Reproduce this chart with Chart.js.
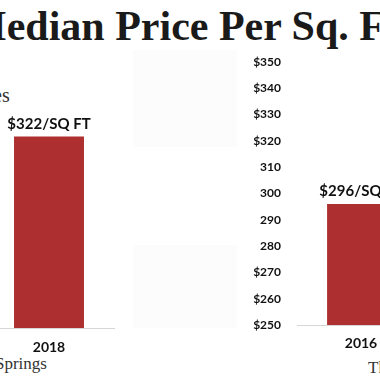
<!DOCTYPE html>
<html>
<head>
<meta charset="utf-8">
<script src="https://cdn.jsdelivr.net/npm/chart.js@4.4.1/dist/chart.umd.min.js"></script>
<style>
  html, body { margin: 0; padding: 0; background: #ffffff; }
  body { width: 380px; height: 380px; overflow: hidden; position: relative; }
  .abs { position: absolute; }
  #title { left: -33px; top: 2px; font-family: "Liberation Serif", serif; font-weight: bold; font-size: 42px; color: #1a1a1a; white-space: nowrap; line-height: 48px; }
  .serif { font-family: "Liberation Serif", serif; color: #333; white-space: nowrap; }
  .faint { background: #fcfcfc; }
</style>
</head>
<body>
<div class="abs faint" style="left:133px;top:50px;width:104px;height:97px;"></div>
<div class="abs faint" style="left:133px;top:245px;width:104px;height:83px;"></div>
<div id="title" class="abs">Median Price Per Sq. Ft.</div>
<div class="abs serif" style="left:-47px;top:84px;font-size:20px;">Homes</div>
<div class="abs serif" style="left:-5px;top:354px;font-size:17px;">Springs</div>
<div class="abs serif" style="left:368px;top:358px;font-size:17px;">The</div>
<div class="abs" style="left:-17px;top:0;width:132px;height:380px;"><canvas id="left"></canvas></div>
<div class="abs" style="left:200px;top:0;width:225px;height:380px;"><canvas id="right"></canvas></div>
<script>
const leftCategories = ['2018'];
const leftValues = [322];
const leftValueLabels = ['$322/SQ FT'];
const leftChangeLabels = ['+4.2%'];

const rightCategories = ['2016'];
const rightValues = [296];
const rightValueLabels = ['$296/SQ FT'];

const yMin = 250;
const yMax = 350;
const yStep = 10;
const yTickLabels = ['$250', '$260', '$270', '280', '290', '300', '310', '$320', '$330', '$340', '$350'];

const BAR_RED = '#ae2f2f';
const FONT = 'Lato, "Liberation Sans", sans-serif';

const labelPlugin = {
  id: 'barLabels',
  afterDatasetsDraw(chart, args, opts) {
    const ctx = chart.ctx;
    const meta = chart.getDatasetMeta(0);
    meta.data.forEach((bar, i) => {
      ctx.save();
      ctx.fillStyle = '#111';
      ctx.font = 'bold 15px ' + FONT;
      ctx.textAlign = 'center';
      ctx.textBaseline = 'bottom';
      ctx.fillText(opts.values[i], bar.x, bar.y - 5);
      if (opts.changes && opts.changes[i]) {
        const cx = bar.x, cy = bar.base - 25;
        const w = 35, h = 21;
        ctx.fillStyle = '#ffffff';
        ctx.fillRect(cx - w / 2, cy - h / 2, w, h);
        ctx.strokeStyle = '#3b3b78';
        ctx.lineWidth = 1;
        ctx.strokeRect(cx - w / 2 + 0.5, cy - h / 2 + 0.5, w - 1, h - 1);
        ctx.fillStyle = '#111';
        ctx.font = 'bold 11px ' + FONT;
        ctx.textBaseline = 'middle';
        ctx.fillText(opts.changes[i], cx, cy + 1);
      }
      ctx.restore();
    });
  }
};

function makeChart(id, cats, vals, valueLabels, changeLabels, showY, yWidth, xHeight, tickPad) {
  return new Chart(document.getElementById(id), {
    type: 'bar',
    data: {
      labels: cats,
      datasets: [{
        data: vals,
        backgroundColor: BAR_RED,
        borderWidth: 0,
        categoryPercentage: 1,
        barPercentage: 0.53
      }]
    },
    options: {
      responsive: true,
      maintainAspectRatio: false,
      animation: false,
      devicePixelRatio: 1,
      layout: { padding: { top: 62, left: 0, right: 0, bottom: 0 } },
      plugins: {
        legend: { display: false },
        tooltip: { enabled: false },
        barLabels: { values: valueLabels, changes: changeLabels }
      },
      scales: {
        x: {
          grid: { display: false, drawTicks: false },
          border: { display: true, color: '#d6d6d6', width: 1 },
          ticks: { color: '#111', font: { family: FONT, weight: 'bold', size: 14 }, padding: tickPad },
          afterFit(scale) { scale.height = xHeight; }
        },
        y: {
          display: showY,
          min: yMin,
          max: yMax,
          grid: { display: false, drawTicks: false },
          border: { display: false },
          ticks: {
            stepSize: yStep,
            color: '#111',
            padding: 16,
            font: { family: FONT, weight: 'bold', size: 12 },
            callback: (v) => yTickLabels[Math.round((v - yMin) / yStep)]
          },
          afterFit(scale) { scale.width = yWidth; }
        }
      }
    },
    plugins: [labelPlugin]
  });
}

makeChart('left', leftCategories, leftValues, leftValueLabels, leftChangeLabels, false, 0, 52, 11);
makeChart('right', rightCategories, rightValues, rightValueLabels, null, true, 97, 55, 10);
</script>
</body>
</html>
